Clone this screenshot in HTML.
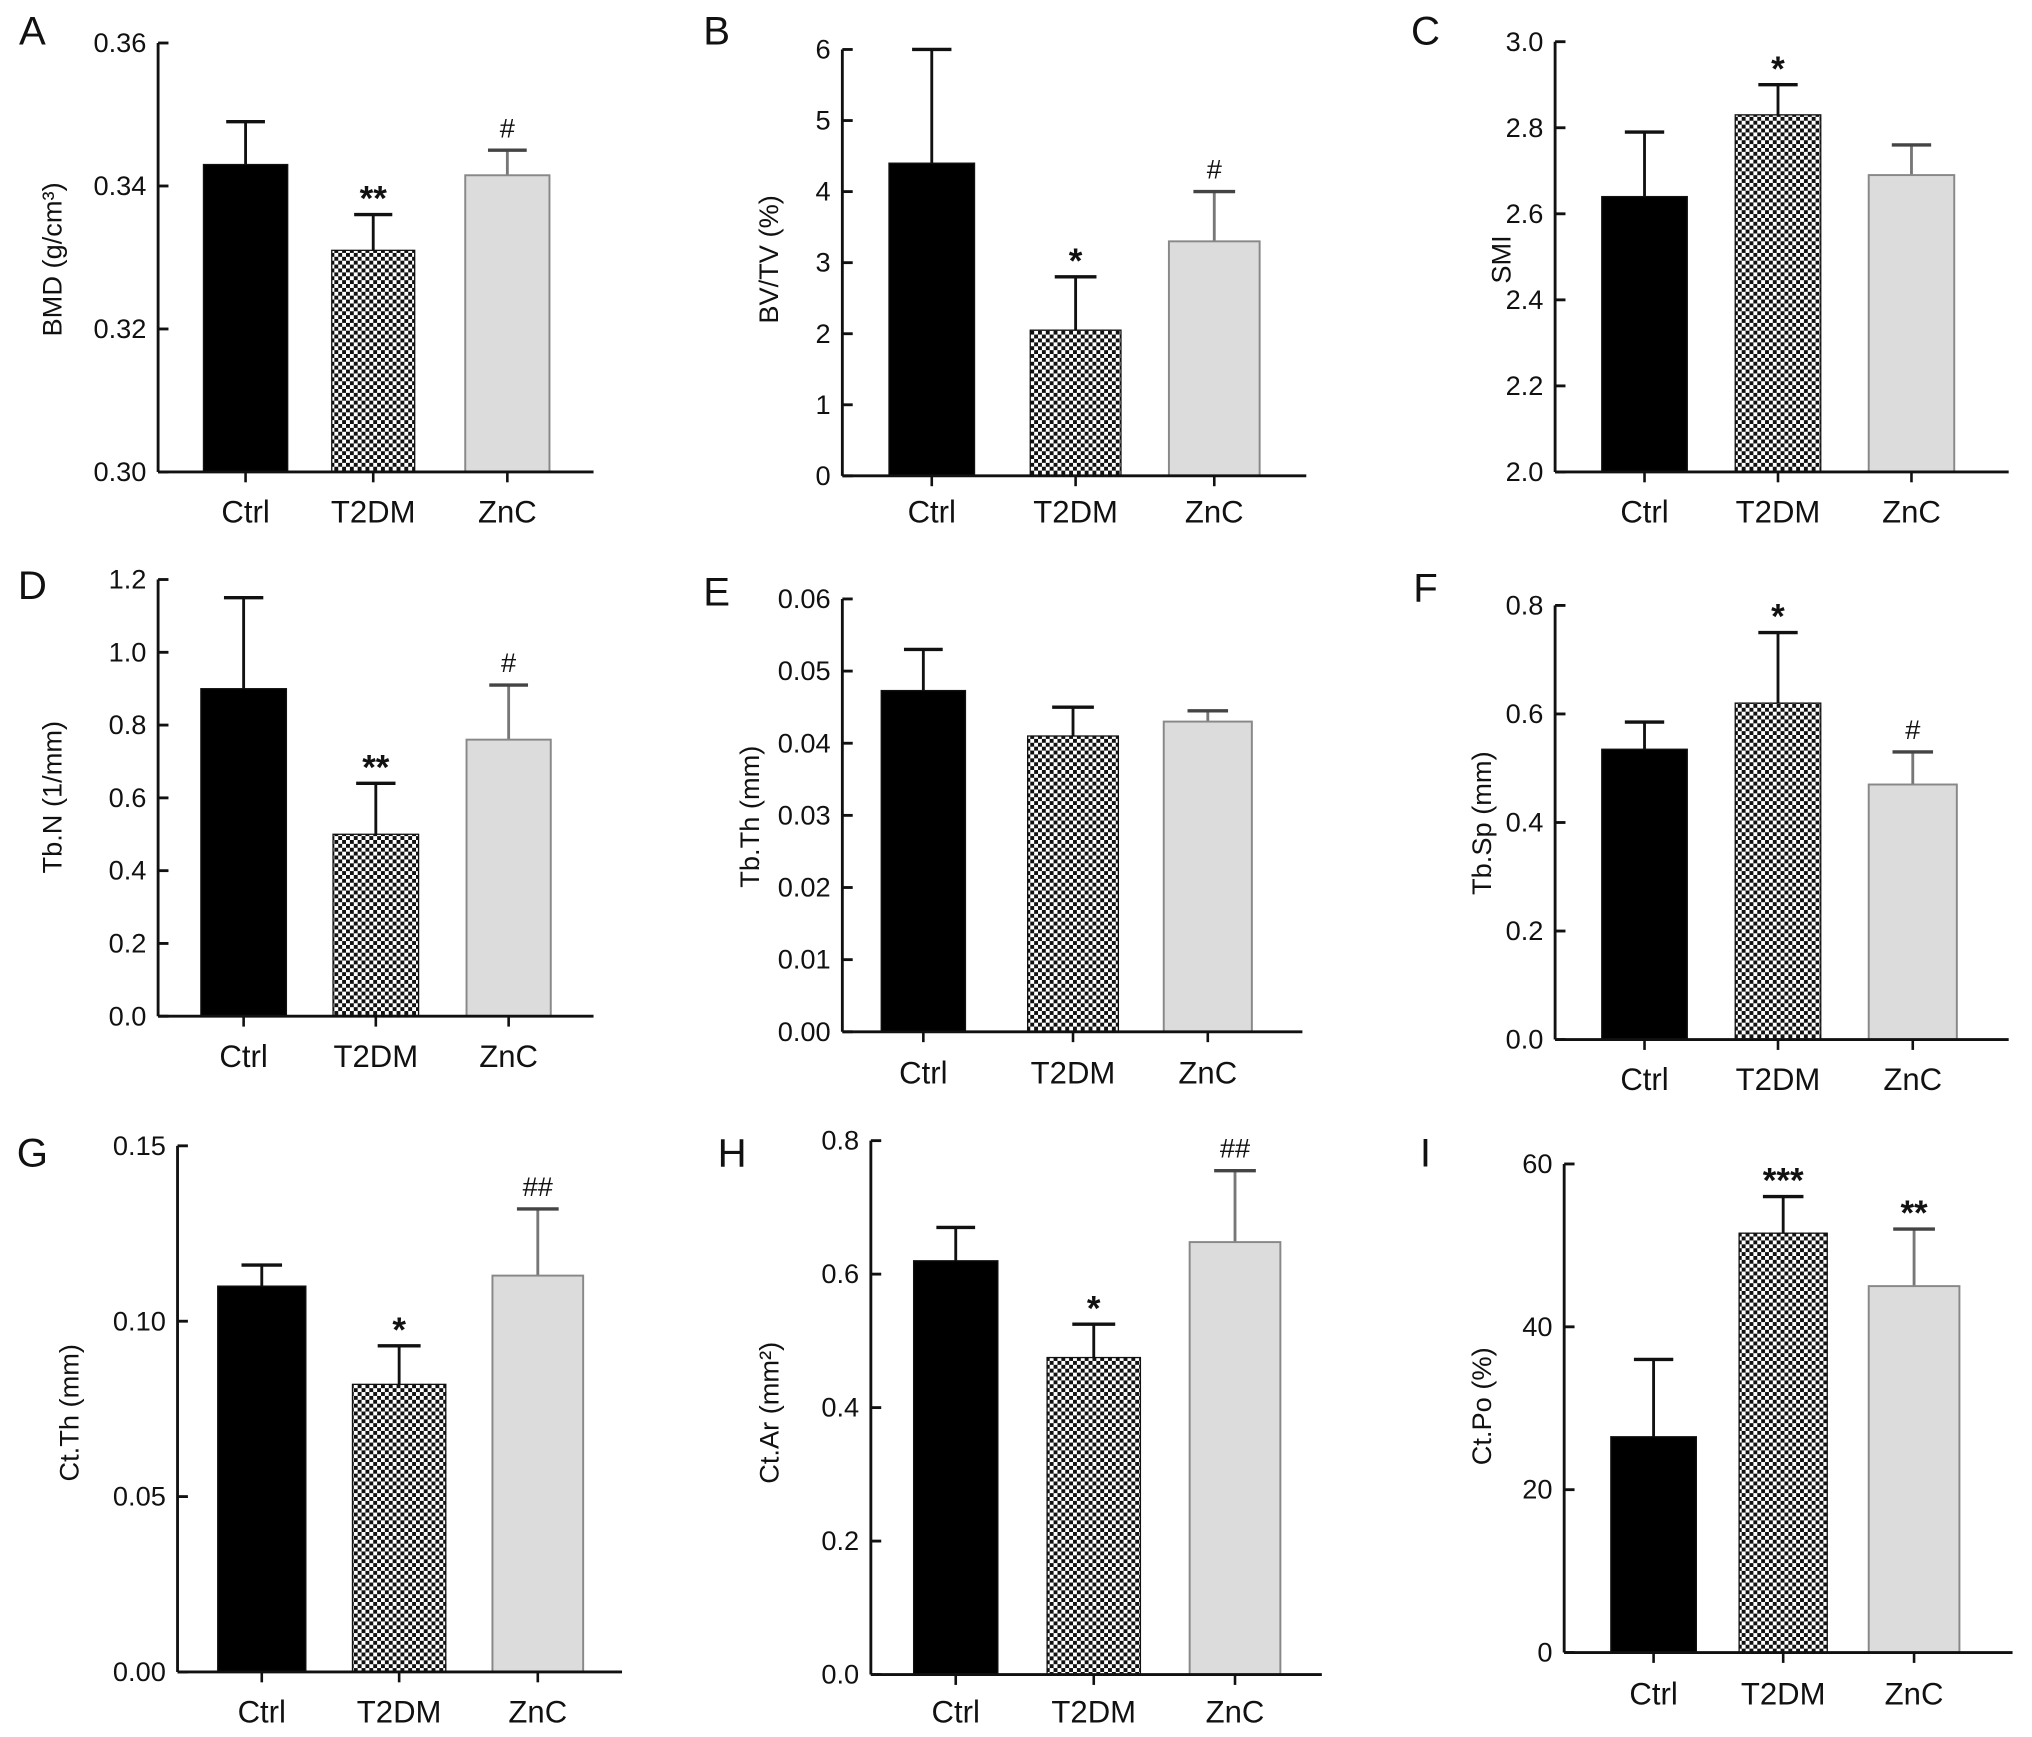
<!DOCTYPE html>
<html><head><meta charset="utf-8"><style>
html,body{margin:0;padding:0;background:#fff}
svg{display:block}
text{font-family:"Liberation Sans",Arial,sans-serif;fill:#111}
</style></head><body>
<svg id="fig" width="2032" height="1737" viewBox="0 0 1568 1340" xmlns="http://www.w3.org/2000/svg">
<defs>
<pattern id="chk" width="6" height="6" patternUnits="userSpaceOnUse">
<rect width="6" height="6" fill="#fff"/><rect width="3" height="3" fill="#111"/><rect x="3" y="3" width="3" height="3" fill="#111"/>
</pattern>
</defs>
</svg>
<script>
const categories=['Ctrl','T2DM','ZnC'];
const meanA=[0.343,0.331,0.3415], errA=[0.349,0.336,0.345], sigA=['','**','#'];
const meanB=[4.4,2.05,3.3], errB=[6.0,2.8,4.0], sigB=['','*','#'];
const meanC=[2.64,2.83,2.69], errC=[2.79,2.90,2.76], sigC=['','*',''];
const meanD=[0.90,0.50,0.76], errD=[1.15,0.64,0.91], sigD=['','**','#'];
const meanE=[0.0473,0.041,0.043], errE=[0.053,0.045,0.0445], sigE=['','',''];
const meanF=[0.535,0.62,0.47], errF=[0.585,0.75,0.53], sigF=['','*','#'];
const meanG=[0.110,0.082,0.113], errG=[0.116,0.093,0.132], sigG=['','*','##'];
const meanH=[0.62,0.475,0.648], errH=[0.67,0.525,0.755], sigH=['','*','##'];
const meanI=[26.5,51.5,45], errI=[36,56,52], sigI=['','***','**'];
const ticksA=['0.30','0.32','0.34','0.36'];
const ticksB=['0','1','2','3','4','5','6'];
const ticksC=['2.0','2.2','2.4','2.6','2.8','3.0'];
const ticksD=['0.0','0.2','0.4','0.6','0.8','1.0','1.2'];
const ticksE=['0.00','0.01','0.02','0.03','0.04','0.05','0.06'];
const ticksF=['0.0','0.2','0.4','0.6','0.8'];
const ticksG=['0.00','0.05','0.10','0.15'];
const ticksH=['0.0','0.2','0.4','0.6','0.8'];
const ticksI=['0','20','40','60'];

const panels=[
 {id:'a',letter:'A',lx:25,ly:22,title:'BMD (g/cm³)',tx:42,ty:200,ax:122,y0:364,y1:33,bars:[[157,222],[256,320],[359,424]],xend:458,cy:394,mean:meanA,err:errA,sig:sigA,ticks:ticksA},
 {id:'b',letter:'B',lx:553,ly:22,title:'BV/TV (%)',tx:595,ty:200,ax:650,y0:367,y1:38,bars:[[686,752],[795,865],[902,972]],xend:1008,cy:394,mean:meanB,err:errB,sig:sigB,ticks:ticksB},
 {id:'c',letter:'C',lx:1100,ly:22,title:'SMI',tx:1160,ty:200,ax:1200,y0:364,y1:32,bars:[[1236,1302],[1339,1405],[1442,1508]],xend:1550,cy:394,mean:meanC,err:errC,sig:sigC,ticks:ticksC},
 {id:'d',letter:'D',lx:25,ly:450,title:'Tb.N (1/mm)',tx:42,ty:615,ax:122,y0:784,y1:447,bars:[[155,221],[257,323],[360,425]],xend:458,cy:814,mean:meanD,err:errD,sig:sigD,ticks:ticksD},
 {id:'e',letter:'E',lx:553,ly:455,title:'Tb.Th (mm)',tx:580,ty:630,ax:650,y0:796,y1:462,bars:[[680,745],[793,863],[898,966]],xend:1005,cy:827,mean:meanE,err:errE,sig:sigE,ticks:ticksE},
 {id:'f',letter:'F',lx:1100,ly:452,title:'Tb.Sp (mm)',tx:1145,ty:635,ax:1200,y0:802,y1:467,bars:[[1236,1302],[1339,1405],[1442,1510]],xend:1550,cy:832,mean:meanF,err:errF,sig:sigF,ticks:ticksF},
 {id:'g',letter:'G',lx:25,ly:888,title:'Ct.Th (mm)',tx:55,ty:1090,ax:137,y0:1290,y1:884,bars:[[168,236],[272,344],[380,450]],xend:480,cy:1320,mean:meanG,err:errG,sig:sigG,ticks:ticksG},
 {id:'h',letter:'H',lx:565,ly:888,title:'Ct.Ar (mm²)',tx:595,ty:1090,ax:672,y0:1292,y1:880,bars:[[705,770],[808,880],[918,988]],xend:1020,cy:1320,mean:meanH,err:errH,sig:sigH,ticks:ticksH},
 {id:'i',letter:'I',lx:1100,ly:888,title:'Ct.Po (%)',tx:1145,ty:1085,ax:1207,y0:1275,y1:898,bars:[[1243,1309],[1342,1410],[1442,1512]],xend:1553,cy:1306,mean:meanI,err:errI,sig:sigI,ticks:ticksI}
];
const NS='http://www.w3.org/2000/svg';
const svg=document.getElementById('fig');
function mk(tag,attrs,parent){const e=document.createElementNS(NS,tag);for(const k in attrs)e.setAttribute(k,attrs[k]);parent.appendChild(e);return e;}
panels.forEach(p=>{
 const g=mk('g',{},svg);
 
 
 const tmin=parseFloat(p.ticks[0]),tmax=parseFloat(p.ticks[p.ticks.length-1]);
 const y=v=>p.y0-(v-tmin)/(tmax-tmin)*(p.y0-p.y1);
 const L=mk('text',{x:p.lx,y:p.ly+12,'font-size':31,'text-anchor':'middle'},g);L.textContent=p.letter;
 
 
 const T=mk('text',{x:p.tx,y:p.ty,'font-size':21,'text-anchor':'middle',transform:`rotate(-90 ${p.tx} ${p.ty})`,'dominant-baseline':'middle'},g);T.textContent=p.title;
 
 
 p.mean.forEach((m,i)=>{
  const [x1,x2]=p.bars[i];const cx=(x1+x2)/2;const w=(x2-x1);
  const eb=mk('line',{x1:cx,x2:cx,y1:y(m),y2:y(p.err[i]),stroke:i==2?'#777':'#111','stroke-width':2.2},g);
  
  
  mk('line',{x1:cx-w*0.23,x2:cx+w*0.23,y1:y(p.err[i]),y2:y(p.err[i]),stroke:i==2?'#444':'#111','stroke-width':2.6},g);
  const fill=i==0?'#000':(i==1?'url(#chk)':'#dcdcdc');
  const r=mk('rect',{x:x1,y:y(m),width:w,height:p.y0-y(m),fill:fill,stroke:i==2?'#888':'#111','stroke-width':i==2?1.5:1},g);
  
  
  if(p.sig[i]){const s=mk('text',{x:cx,y:y(p.err[i])-10,'font-size':p.sig[i][0]=='*'?27:21,'font-weight':p.sig[i][0]=='*'?'bold':'normal','text-anchor':'middle','font-family':p.sig[i][0]=='#'?'Liberation Serif, serif':'Liberation Sans, sans-serif'},g);
   s.textContent=p.sig[i];
   
   
   if(p.sig[i][0]=='*')s.setAttribute('y',y(p.err[i])-3);}
  mk('line',{x1:cx,x2:cx,y1:p.y0,y2:p.y0+8,stroke:'#111','stroke-width':2},g);
  const c=mk('text',{x:cx,y:p.cy+9,'font-size':24,'text-anchor':'middle'},g);c.textContent=categories[i];
  
  
 });
 const ya=mk('line',{x1:p.ax,x2:p.ax,y1:p.y1,y2:p.y0,stroke:'#111','stroke-width':2.2},g);
 
 
 const xa=mk('line',{x1:p.ax,x2:p.xend,y1:p.y0,y2:p.y0,stroke:'#111','stroke-width':2.2},g);
 
 
 p.ticks.forEach(t=>{const v=parseFloat(t);const yy=y(v);
  mk('line',{x1:p.ax,x2:p.ax+8,y1:yy,y2:yy,stroke:'#111','stroke-width':2.2},g);
  const tl=mk('text',{x:p.ax-9,y:yy+7,'font-size':21,'text-anchor':'end'},g);tl.textContent=t;
  
  
 });
});
</script>
</body></html>
